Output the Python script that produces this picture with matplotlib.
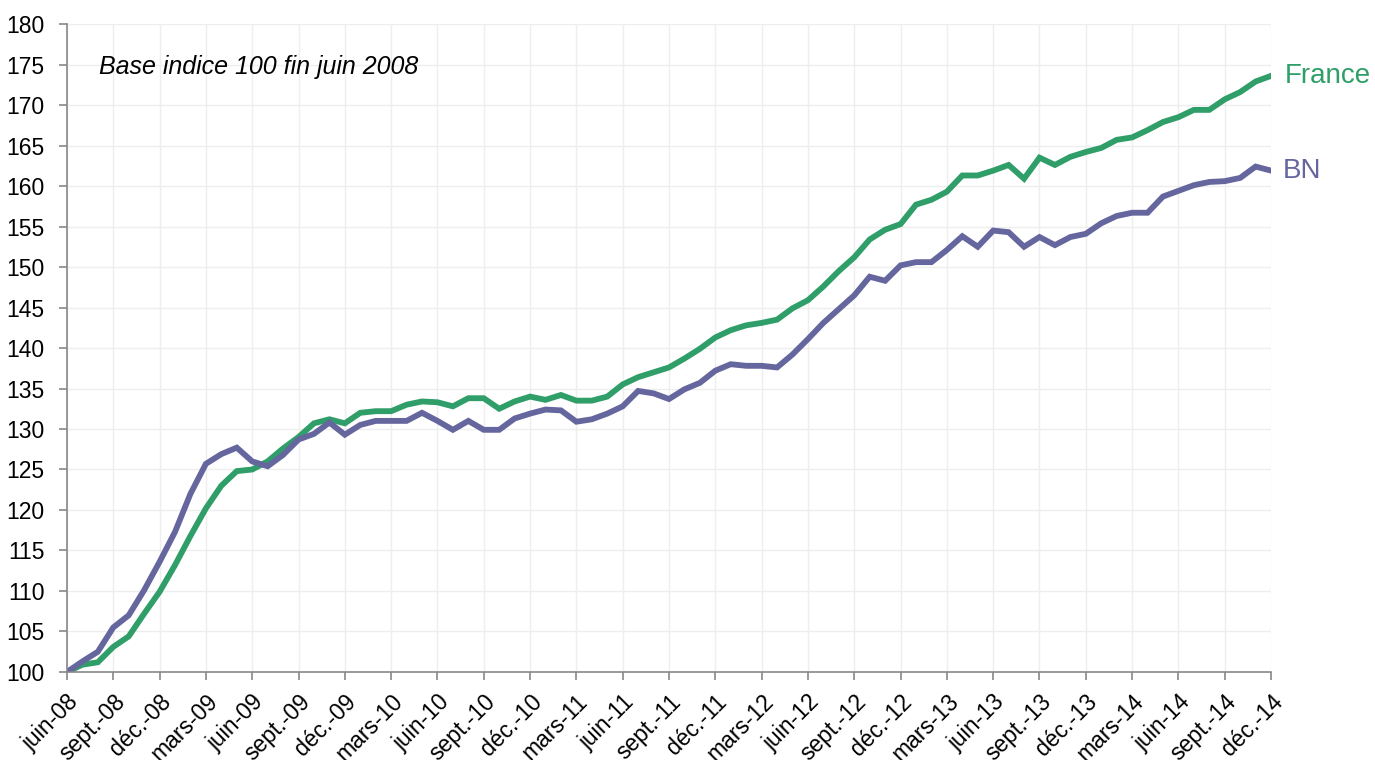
import numpy as np
import matplotlib.pyplot as plt

plt.rcParams['font.family'] = ['Liberation Sans', 'DejaVu Sans']

# indices mensuels, base 100 fin juin 2008 (juin-08 ... déc.-14)
france = [100.0, 100.9, 101.2, 103.1, 104.4, 107.2, 109.9, 113.2, 116.8, 120.2,
          123.0, 124.8, 125.0, 126.0, 127.6, 129.0, 130.7, 131.2, 130.7, 132.0,
          132.2, 132.2, 133.0, 133.4, 133.3, 132.8, 133.8, 133.8, 132.5, 133.4,
          134.0, 133.6, 134.2, 133.5, 133.5, 134.0, 135.5, 136.4, 137.0, 137.6,
          138.7, 139.9, 141.3, 142.2, 142.8, 143.1, 143.5, 144.9, 145.9, 147.6,
          149.5, 151.2, 153.4, 154.6, 155.3, 157.7, 158.3, 159.3, 161.3, 161.3,
          161.9, 162.6, 160.9, 163.5, 162.6, 163.6, 164.2, 164.7, 165.7, 166.0,
          166.9, 167.9, 168.5, 169.4, 169.4, 170.7, 171.6, 172.9, 173.6]
bn = [100.0, 101.3, 102.5, 105.5, 107.0, 110.1, 113.6, 117.3, 122.0, 125.7,
      126.9, 127.7, 126.0, 125.4, 126.8, 128.7, 129.4, 130.8, 129.3, 130.5,
      131.0, 131.0, 131.0, 132.0, 131.0, 129.9, 131.0, 129.9, 129.9, 131.3,
      131.9, 132.4, 132.3, 130.9, 131.2, 131.9, 132.8, 134.7, 134.4, 133.7,
      134.9, 135.7, 137.2, 138.0, 137.8, 137.8, 137.6, 139.2, 141.1, 143.1,
      144.8, 146.5, 148.8, 148.3, 150.2, 150.6, 150.6, 152.1, 153.8, 152.5,
      154.5, 154.3, 152.5, 153.7, 152.7, 153.7, 154.1, 155.4, 156.3, 156.7,
      156.7, 158.7, 159.4, 160.1, 160.5, 160.6, 161.0, 162.4, 161.9]

mois = ['juin', 'sept.', 'déc.', 'mars']
tick_labels = []
for k in range(27):
    m = mois[k % 4]
    an = 8 + (k + 1) // 4
    tick_labels.append(f'{m}-{an:02d}')

green = '#2F9E68'
purple = '#65669E'

x = np.arange(len(france))

fig = plt.figure(figsize=(13.75, 7.6), dpi=100)
ax = fig.add_axes([0.0487, 0.1158, 0.8757, 0.8526])

ax.plot(x, france, color=green, lw=4.2, solid_joinstyle='miter')
ax.plot(x, bn, color=purple, lw=4.2, solid_joinstyle='miter')

ax.set_xlim(0, len(france) - 1)
ax.set_ylim(100, 180)
ax.set_yticks(np.arange(100, 181, 5))
ax.set_xticks(np.arange(0, len(france), 3))
ax.set_xticklabels(tick_labels, rotation=45, ha='right', va='top',
                   rotation_mode='anchor', fontsize=16.5)
ax.tick_params(axis='y', labelsize=16.5, colors='#888888', labelcolor='black',
               length=6, width=1.2, pad=10)
ax.tick_params(axis='x', colors='#888888', labelcolor='black',
               length=6, width=1.2, pad=7)

ax.grid(True, color='#eeeeee', lw=1)
ax.set_axisbelow(True)
for s in ['top', 'right']:
    ax.spines[s].set_visible(False)
for s in ['left', 'bottom']:
    ax.spines[s].set_color('#888888')
    ax.spines[s].set_linewidth(1.2)

ax.text(0.027, 0.934, 'Base indice 100 fin juin 2008', transform=ax.transAxes,
        fontsize=18, style='italic', va='center')
ax.text(len(france) - 1 + 0.9, france[-1], 'France', color=green,
        fontsize=20, va='center', clip_on=False)
ax.text(len(france) - 1 + 0.75, bn[-1], 'BN', color=purple,
        fontsize=20, va='center', clip_on=False)

fig.savefig('out.png')
